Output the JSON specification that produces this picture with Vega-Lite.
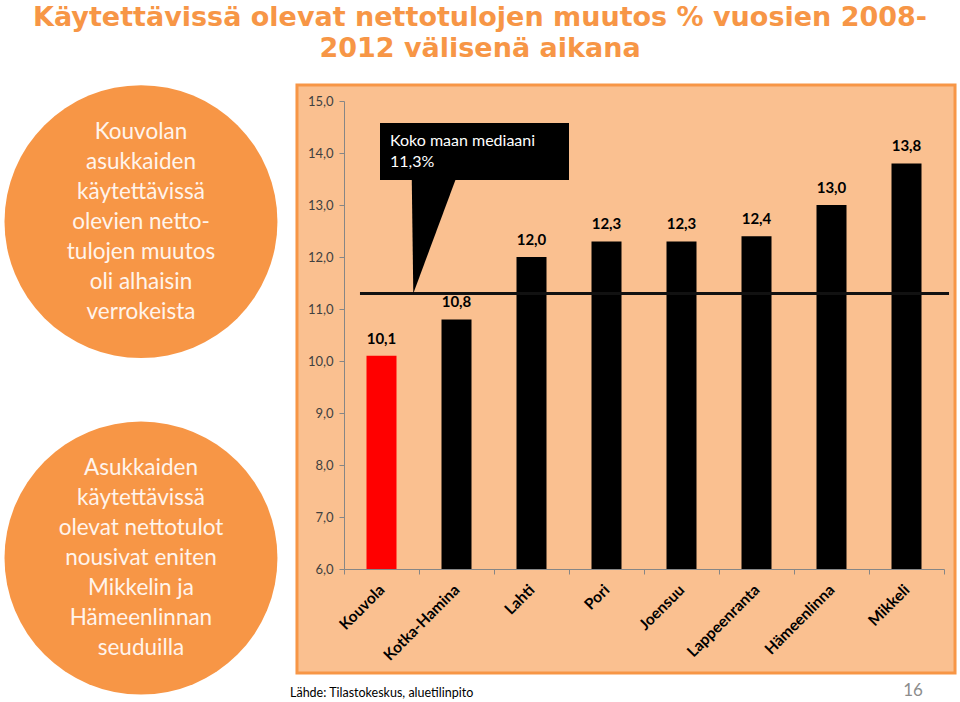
{
  "$schema": "https://vega.github.io/schema/vega-lite/v6.json",
  "width": 600,
  "height": 468,
  "autosize": {"type": "none"},
  "padding": {"left": 344, "top": 101, "right": 16, "bottom": 133},
  "background": "white",
  "title": {
    "text": ["Käytettävissä olevat nettotulojen muutos % vuosien 2008-", "2012 välisenä aikana"],
    "font": "DejaVu Sans",
    "fontSize": 27,
    "fontWeight": "bold",
    "color": "#F79646",
    "anchor": "middle",
    "frame": "group",
    "baseline": "bottom",
    "lineHeight": 31,
    "offset": -7,
    "dx": -164
  },
  "config": {
    "view": {"stroke": null},
    "font": "Lato",
    "locale": {"number": {"decimal": ",", "thousands": " ", "grouping": [3], "currency": ["", " €"]}}
  },
  "resolve": {"scale": {"x": "independent"}, "axis": {"x": "independent", "y": "independent"}},
  "layer": [
    {
      "data": {"values": [{"x": -0.627, "x2": 8.147, "y": 15.31, "y2": 4.0}]},
      "mark": {"type": "rect", "fill": "#FAC090", "stroke": "#F79646", "strokeWidth": 3},
      "encoding": {
        "x": {"field": "x", "type": "quantitative", "scale": {"domain": [0, 8], "nice": false, "zero": false}, "axis": null},
        "x2": {"field": "x2"},
        "y": {"field": "y", "type": "quantitative", "scale": {"domain": [6, 15], "nice": false, "zero": false}, "axis": null},
        "y2": {"field": "y2"}
      }
    },
    {
      "data": {"values": [
        {"x": -2.707, "y": 12.68, "note": "Kouvolan\nasukkaiden\nkäytettävissä\nolevien netto-\ntulojen muutos\noli alhaisin\nverrokeista"},
        {"x": -2.707, "y": 6.21, "note": "Asukkaiden\nkäytettävissä\nolevat nettotulot\nnousivat eniten\nMikkelin ja\nHämeenlinnan\nseuduilla"}
      ]},
      "layer": [
        {
          "mark": {"type": "point", "shape": "circle", "filled": true, "size": 74500, "color": "#F79646", "opacity": 1},
          "encoding": {
            "x": {"field": "x", "type": "quantitative", "scale": {"domain": [0, 8], "nice": false, "zero": false}, "axis": null},
            "y": {"field": "y", "type": "quantitative", "scale": {"domain": [6, 15], "nice": false, "zero": false}, "axis": null}
          }
        },
        {
          "mark": {"type": "text", "lineBreak": "\n", "lineHeight": 30, "fontSize": 22.5, "color": "#FFF4EC", "align": "center", "baseline": "middle", "dy": -90, "font": "Lato"},
          "encoding": {
            "x": {"field": "x", "type": "quantitative", "scale": {"domain": [0, 8], "nice": false, "zero": false}, "axis": null},
            "y": {"field": "y", "type": "quantitative", "scale": {"domain": [6, 15], "nice": false, "zero": false}, "axis": null},
            "text": {"field": "note"}
          }
        }
      ]
    },
    {
      "data": {"values": [
        {"city": "Kouvola", "value": 10.1},
        {"city": "Kotka-Hamina", "value": 10.8},
        {"city": "Lahti", "value": 12.0},
        {"city": "Pori", "value": 12.3},
        {"city": "Joensuu", "value": 12.3},
        {"city": "Lappeenranta", "value": 12.4},
        {"city": "Hämeenlinna", "value": 13.0},
        {"city": "Mikkeli", "value": 13.8}
      ]},
      "encoding": {
        "x": {
          "field": "city", "type": "nominal", "sort": null,
          "scale": {"paddingInner": 0, "paddingOuter": 0},
          "axis": {
            "title": null, "labelAngle": -45, "labelAlign": "right", "labelBaseline": "middle",
            "labelFontSize": 15.5, "labelFontWeight": "bold", "labelColor": "#000000", "labelFont": "Lato",
            "labelPadding": 13, "tickBand": "extent", "tickSize": 5, "tickColor": "#868686",
            "domainColor": "#868686", "zindex": 1
          }
        },
        "y": {
          "field": "value", "type": "quantitative",
          "scale": {"domain": [6, 15], "nice": false, "zero": false},
          "axis": {
            "title": null, "values": [6, 7, 8, 9, 10, 11, 12, 13, 14, 15], "format": ".1f",
            "grid": false, "labelFontSize": 13, "labelColor": "#404040", "labelFont": "Lato",
            "tickSize": 5, "tickColor": "#868686", "domainColor": "#868686", "labelPadding": 6, "zindex": 1
          }
        }
      },
      "layer": [
        {
          "mark": {"type": "bar", "width": {"band": 0.4}},
          "encoding": {
            "y2": {"datum": 6},
            "color": {"condition": {"test": "datum.city === 'Kouvola'", "value": "#FF0000"}, "value": "#000000"}
          }
        },
        {
          "mark": {"type": "text", "baseline": "bottom", "dy": -9, "fontSize": 15, "fontWeight": "bold", "color": "#000000", "font": "Lato"},
          "encoding": {"text": {"field": "value", "type": "quantitative", "format": ".1f"}}
        }
      ]
    },
    {
      "data": {"values": [{"x": 0.213, "x2": 8.067, "y": 11.3}]},
      "mark": {"type": "rule", "strokeWidth": 3, "color": "#111111"},
      "encoding": {
        "x": {"field": "x", "type": "quantitative", "scale": {"domain": [0, 8], "nice": false, "zero": false}, "axis": null},
        "x2": {"field": "x2"},
        "y": {"field": "y", "type": "quantitative", "scale": {"domain": [6, 15], "nice": false, "zero": false}, "axis": null}
      }
    },
    {
      "data": {"values": [
        {"x": 0.903, "y": 13.55, "y2": 13.55},
        {"x": 0.924, "y": 11.3, "y2": 13.55},
        {"x": 1.503, "y": 13.55, "y2": 13.55}
      ]},
      "mark": {"type": "area", "color": "#000000", "opacity": 1},
      "encoding": {
        "x": {"field": "x", "type": "quantitative", "scale": {"domain": [0, 8], "nice": false, "zero": false}, "axis": null},
        "y": {"field": "y", "type": "quantitative", "scale": {"domain": [6, 15], "nice": false, "zero": false}, "axis": null},
        "y2": {"field": "y2"}
      }
    },
    {
      "data": {"values": [{"x": 0.48, "x2": 3.0, "y": 14.577, "y2": 13.481, "note": " Koko maan mediaani\n11,3%"}]},
      "layer": [
        {
          "mark": {"type": "rect", "color": "#000000"},
          "encoding": {
            "x": {"field": "x", "type": "quantitative", "scale": {"domain": [0, 8], "nice": false, "zero": false}, "axis": null},
            "x2": {"field": "x2"},
            "y": {"field": "y", "type": "quantitative", "scale": {"domain": [6, 15], "nice": false, "zero": false}, "axis": null},
            "y2": {"field": "y2"}
          }
        },
        {
          "mark": {"type": "text", "lineBreak": "\n", "lineHeight": 21, "fontSize": 16, "color": "#FFFFFF", "align": "left", "baseline": "top", "dx": 10, "dy": 10, "font": "Lato"},
          "encoding": {
            "x": {"field": "x", "type": "quantitative", "scale": {"domain": [0, 8], "nice": false, "zero": false}, "axis": null},
            "y": {"field": "y", "type": "quantitative", "scale": {"domain": [6, 15], "nice": false, "zero": false}, "axis": null},
            "text": {"field": "note"}
          }
        }
      ]
    },
    {
      "data": {"values": [
        {"x": -0.72, "y": 3.615, "note": "Lähde: Tilastokeskus, aluetilinpito"}
      ]},
      "mark": {"type": "text", "align": "left", "baseline": "middle", "fontSize": 12.5, "color": "#000000", "font": "Lato"},
      "encoding": {
        "x": {"field": "x", "type": "quantitative", "scale": {"domain": [0, 8], "nice": false, "zero": false}, "axis": null},
        "y": {"field": "y", "type": "quantitative", "scale": {"domain": [6, 15], "nice": false, "zero": false}, "axis": null},
        "text": {"field": "note"}
      }
    },
    {
      "data": {"values": [
        {"x": 7.587, "y": 3.654, "note": "16"}
      ]},
      "mark": {"type": "text", "align": "center", "baseline": "middle", "fontSize": 17, "color": "#8C8C8C", "font": "Lato"},
      "encoding": {
        "x": {"field": "x", "type": "quantitative", "scale": {"domain": [0, 8], "nice": false, "zero": false}, "axis": null},
        "y": {"field": "y", "type": "quantitative", "scale": {"domain": [6, 15], "nice": false, "zero": false}, "axis": null},
        "text": {"field": "note"}
      }
    }
  ]
}
